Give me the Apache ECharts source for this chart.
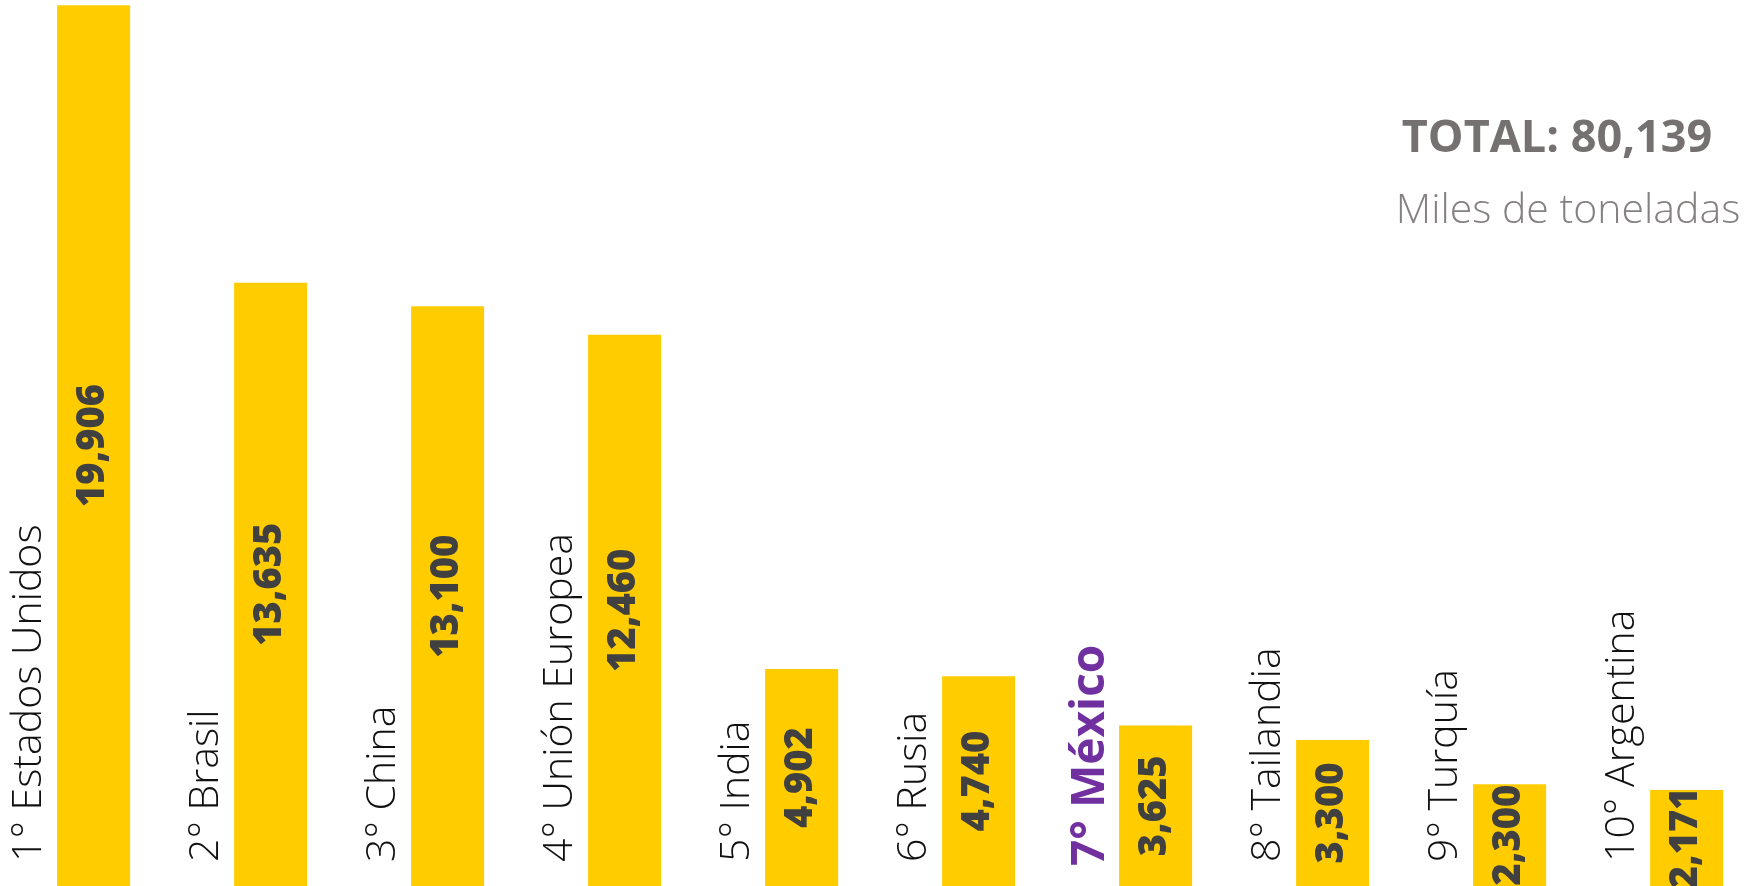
<!DOCTYPE html>
<html>
<head>
<meta charset="utf-8">
<style>
  html, body { margin: 0; padding: 0; background: #fff; overflow: hidden; }
  /* chart is a bit wider than the page so the first band can start left of 0 */
  #chart { width: 1771px; height: 886px; margin-left: -27px; }
</style>
<script src="https://cdn.jsdelivr.net/npm/echarts@6/dist/echarts.min.js"></script>
</head>
<body>
<div id="chart"></div>
<script>
// Producción mundial (miles de toneladas)
const paises = ['1° Estados Unidos', '2° Brasil', '3° China', '4° Unión Europea', '5° India',
  '6° Rusia', '7° México', '8° Tailandia', '9° Turquía', '10° Argentina']
const valores = [19906, 13635, 13100, 12460, 4902, 4740, 3625, 3300, 2300, 2171]
const destacado = '7° México'
const unidad = 'Miles de toneladas'

const font = '"Open Sans", "DejaVu Sans", sans-serif'
const amarillo = '#FFCC00'
const morado = '#7030A0'
const shift = 27   // page offset of the chart div

const total = valores.reduce((s, v) => s + v, 0)
const fmt = v => v.toLocaleString('en-US')

const chart = echarts.init(document.getElementById('chart'))

const option = {
  animation: false,
  textStyle: { fontFamily: font },
  grid: { left: 0, right: 1, top: 1, bottom: -1, containLabel: false },
  xAxis: {
    type: 'category',
    data: paises,
    axisLine: { show: false },
    axisTick: { show: false },
    axisLabel: { show: false },
    splitLine: { show: false }
  },
  yAxis: {
    type: 'value',
    min: 0,
    max: 20000,
    show: false,
    splitLine: { show: false }
  },
  // header texts at top right
  graphic: [
    {
      type: 'text',
      x: 1557 + shift, y: 139,
      style: {
        text: 'TOTAL: ' + fmt(total),
        font: `bold 45px ${font}`,
        fill: '#767171',
        align: 'center',
        verticalAlign: 'middle'
      }
    },
    {
      type: 'text',
      x: 1568 + shift, y: 211,
      style: {
        text: unidad,
        font: `300 41px ${font}`,
        fill: '#858181',
        align: 'center',
        verticalAlign: 'middle'
      }
    }
  ],
  series: [
    {
      // invisible bars that carry the country names
      name: 'nombres',
      type: 'bar',
      barWidth: 73,
      barGap: '-12%',
      silent: true,
      itemStyle: { color: 'rgba(0,0,0,0)' },
      data: paises.map(p => ({
        value: 0,
        label: p === destacado
          ? { color: morado, fontWeight: 'bold', fontSize: 46, offset: [-4, 0] }
          : {}
      })),
      label: {
        show: true,
        position: 'insideBottom',
        distance: 24,
        rotate: 90,
        align: 'left',
        verticalAlign: 'middle',
        fontFamily: font,
        fontSize: 41,
        fontWeight: 300,
        color: '#111',
        formatter: p => paises[p.dataIndex]
      }
    },
    {
      name: 'producción',
      type: 'bar',
      barWidth: 73,
      itemStyle: { color: amarillo },
      data: valores,
      label: {
        show: true,
        position: 'inside',
        rotate: 90,
        align: 'center',
        verticalAlign: 'middle',
        fontFamily: font,
        fontSize: 38,
        fontWeight: 800,
        color: '#404040',
        formatter: p => fmt(p.value)
      }
    }
  ]
}

chart.setOption(option)
</script>
</body>
</html>
